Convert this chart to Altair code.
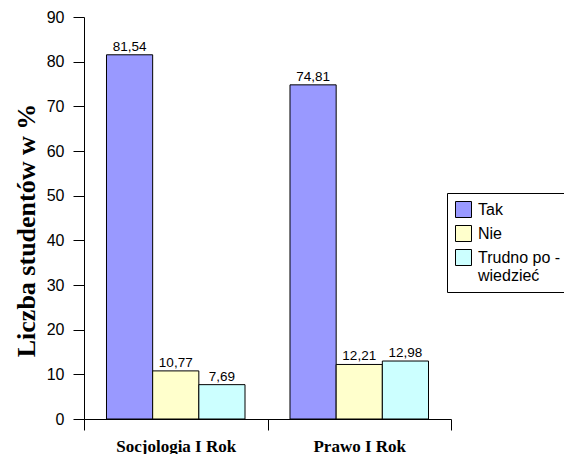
import altair as alt
import pandas as pd

groups = ["Socjologia I Rok", "Prawo I Rok"]
answers = ["Tak", "Nie", "Trudno po - wiedzieć"]
colors = ["#9999FF", "#FFFFCC", "#CCFFFF"]
socjologia = [81.54, 10.77, 7.69]
prawo = [74.81, 12.21, 12.98]

rows = []
for g, vals in zip(groups, [socjologia, prawo]):
    for a, v in zip(answers, vals):
        rows.append({"grupa": g, "odp": a, "val": v, "lab": f"{v:.2f}".replace(".", ",")})
df = pd.DataFrame(rows)

x = alt.X("grupa:N", sort=groups, title=None,
          scale=alt.Scale(paddingInner=0, paddingOuter=0),
          axis=alt.Axis(labelAngle=0, labelFont="Liberation Serif", labelFontWeight="bold",
                        labelFontSize=17, labelColor="black", labelPadding=8,
                        tickBand="extent", tickSize=11, tickColor="black", domainColor="black"))
xo = alt.XOffset("odp:N", sort=answers, scale=alt.Scale(paddingInner=0, paddingOuter=0.487))
y = alt.Y("val:Q", title="Liczba studentów w %",
          scale=alt.Scale(domain=[0, 90], nice=False),
          axis=alt.Axis(values=list(range(0, 91, 10)), grid=False, tickSize=11,
                        tickColor="black", domainColor="black", labelFont="Liberation Sans",
                        labelFontSize=16, labelColor="black", labelPadding=9,
                        titleFont="Liberation Serif", titleFontSize=26, titleFontWeight="bold",
                        titleColor="black", titlePadding=7, titleY=213))

bars = alt.Chart(df).mark_bar(stroke="black", strokeWidth=1).encode(
    x=x, xOffset=xo, y=y,
    color=alt.Color("odp:N", sort=answers, title=None,
                    scale=alt.Scale(domain=answers, range=colors),
                    legend=alt.Legend(orient="none", legendX=363, legendY=176,
                                      symbolType="square", symbolSize=256,
                                      symbolStrokeColor="black", symbolStrokeWidth=1,
                                      labelFont="Liberation Sans", labelFontSize=16,
                                      labelColor="black", labelLimit=200, labelOffset=6,
                                      labelExpr="datum.label == 'Trudno po - wiedzieć' ? ['Trudno po -', 'wiedzieć'] : datum.label",
                                      strokeColor="black", padding=8, rowPadding=3,
                                      fillColor="white"))
)
text = alt.Chart(df).mark_text(dy=-8, font="Liberation Sans", fontSize=13.5, color="black").encode(
    x=alt.X("grupa:N", sort=groups), xOffset=xo, y="val:Q", text="lab:N")

chart = (bars + text).properties(
    width=367, height=402,
    autosize=alt.AutoSizeParams(type="none"),
    padding={"left": 76, "top": 9, "right": 113, "bottom": 35}
).configure_view(stroke=None)

chart.save("out.html", embed_options={"renderer": "svg", "actions": False})
